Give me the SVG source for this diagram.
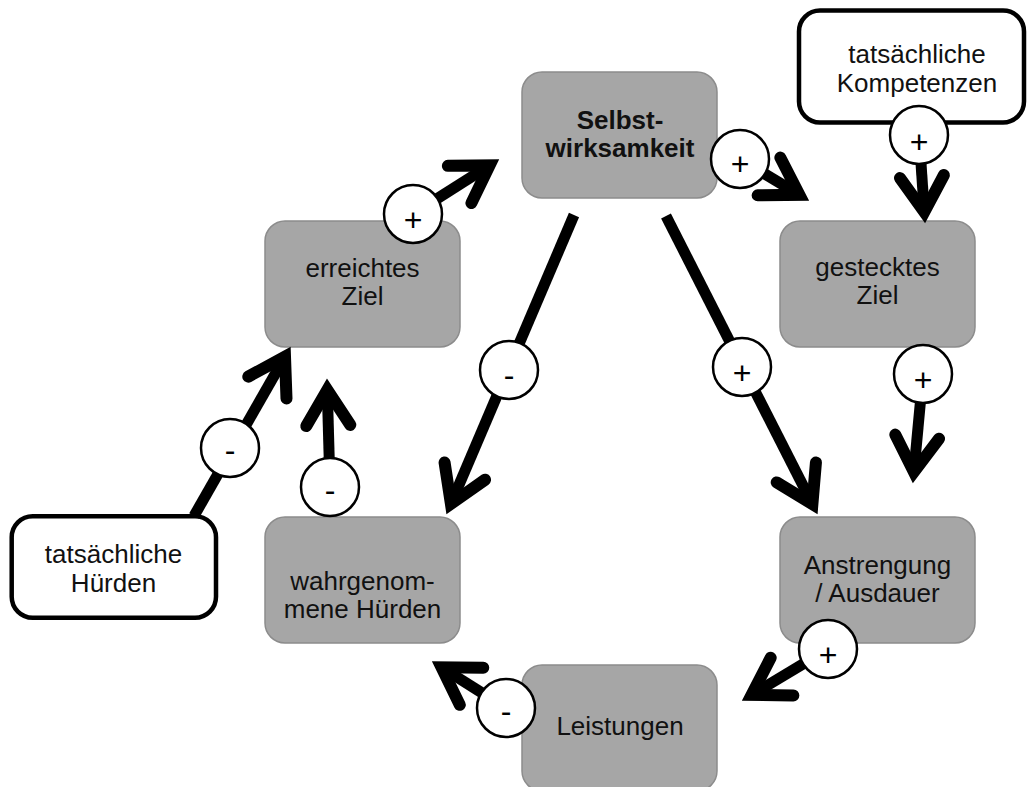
<svg xmlns="http://www.w3.org/2000/svg" width="1029" height="787" viewBox="0 0 1029 787">
  <style>
    .box { fill: #a6a6a6; stroke: #8c8c8c; stroke-width: 1.5; }
    .ext { fill: #ffffff; stroke: #000000; stroke-width: 4.5; }
    .lbl { font-family: "Liberation Sans", Arial, sans-serif; font-size: 26px; fill: #111; text-anchor: middle; }
    .bold { font-weight: bold; }
    .edge { stroke: #000; stroke-width: 11; stroke-linecap: butt; fill: none; marker-end: url(#head); }
    .sign { fill: #fff; stroke: #000; stroke-width: 2.5; }
    .sym { font-family: "Liberation Sans", Arial, sans-serif; font-size: 32px; fill: #000; text-anchor: middle; }
  </style>
  <defs>
    <!-- open chevron arrowhead, sharp tip, rounded arm ends -->
    <marker id="head" markerUnits="userSpaceOnUse" markerWidth="90" markerHeight="90" refX="0" refY="0" orient="auto" overflow="visible">
      <path d="M-35.5,-22 L0,0 L-35.5,22" fill="none" stroke="#000" stroke-width="12" stroke-linecap="round" stroke-linejoin="miter"/>
    </marker>
  </defs>

  <rect width="1029" height="787" fill="#fff"/>

  <!-- nodes -->
  <g id="selbstwirksamkeit">
    <rect class="box" x="522" y="72" width="195" height="126" rx="20"/>
    <text class="lbl bold" x="620" y="129">Selbst-</text>
    <text class="lbl bold" x="620" y="157">wirksamkeit</text>
  </g>
  <g id="erreichtes-ziel">
    <rect class="box" x="265" y="221" width="195" height="126" rx="20"/>
    <text class="lbl" x="362.5" y="277">erreichtes</text>
    <text class="lbl" x="362.5" y="305">Ziel</text>
  </g>
  <g id="gestecktes-ziel">
    <rect class="box" x="780" y="221" width="195" height="126" rx="20"/>
    <text class="lbl" x="877.5" y="276">gestecktes</text>
    <text class="lbl" x="877.5" y="304">Ziel</text>
  </g>
  <g id="wahrgenommene-huerden">
    <rect class="box" x="265" y="517" width="195" height="126" rx="20"/>
    <text class="lbl" x="362.5" y="590">wahrgenom-</text>
    <text class="lbl" x="362.5" y="618">mene Hürden</text>
  </g>
  <g id="anstrengung">
    <rect class="box" x="780" y="517" width="195" height="126" rx="20"/>
    <text class="lbl" x="877.5" y="574">Anstrengung</text>
    <text class="lbl" x="877.5" y="602">/ Ausdauer</text>
  </g>
  <g id="leistungen">
    <rect class="box" x="522" y="665" width="195" height="126" rx="20"/>
    <text class="lbl" x="620" y="735">Leistungen</text>
  </g>
  <g id="tatsaechliche-huerden">
    <rect class="ext" x="11.7" y="516.3" width="204.3" height="101.4" rx="21"/>
    <text class="lbl" x="113.5" y="563">tatsächliche</text>
    <text class="lbl" x="113.5" y="592">Hürden</text>
  </g>
  <g id="tatsaechliche-kompetenzen">
    <rect class="ext" x="799" y="10.5" width="225" height="112" rx="21"/>
    <text class="lbl" x="917" y="63">tatsächliche</text>
    <text class="lbl" x="917" y="92">Kompetenzen</text>
  </g>

  <!-- connectors with polarity badges -->
  <g id="connectors">
    <line class="edge" x1="413" y1="214" x2="489.6" y2="165.4"/>
    <line class="edge" x1="740" y1="159" x2="799.4" y2="194.8"/>
    <line class="edge" x1="919" y1="134" x2="924.3" y2="212"/>
    <line class="edge" x1="666" y1="216" x2="812.4" y2="504.1"/>
    <line class="edge" x1="574" y1="215" x2="450.9" y2="503.8"/>
    <line class="edge" x1="923" y1="374" x2="913.9" y2="472"/>
    <line class="edge" x1="828" y1="649" x2="751.6" y2="694.9"/>
    <line class="edge" x1="506" y1="708" x2="441.5" y2="667.3"/>
    <line class="edge" x1="330" y1="487" x2="327.3" y2="390"/>
    <line class="edge" x1="194" y1="516" x2="285" y2="356.7"/>

    <circle class="sign" cx="413" cy="214" r="29"/>
    <text class="sym" x="413" y="231">+</text>
    <circle class="sign" cx="740" cy="159" r="29"/>
    <text class="sym" x="740" y="175">+</text>
    <circle class="sign" cx="919" cy="135" r="29"/>
    <text class="sym" x="919" y="153">+</text>
    <circle class="sign" cx="742" cy="367" r="29"/>
    <text class="sym" x="742" y="384">+</text>
    <circle class="sign" cx="509" cy="370" r="29"/>
    <text class="sym" x="509" y="386">-</text>
    <circle class="sign" cx="923" cy="374" r="29"/>
    <text class="sym" x="923" y="391">+</text>
    <circle class="sign" cx="828" cy="649" r="29"/>
    <text class="sym" x="828" y="666">+</text>
    <circle class="sign" cx="506" cy="708" r="29"/>
    <text class="sym" x="506" y="722">-</text>
    <circle class="sign" cx="330" cy="487" r="29"/>
    <text class="sym" x="330" y="501">-</text>
    <circle class="sign" cx="230" cy="448" r="29"/>
    <text class="sym" x="230" y="460.5">-</text>
  </g>
</svg>
